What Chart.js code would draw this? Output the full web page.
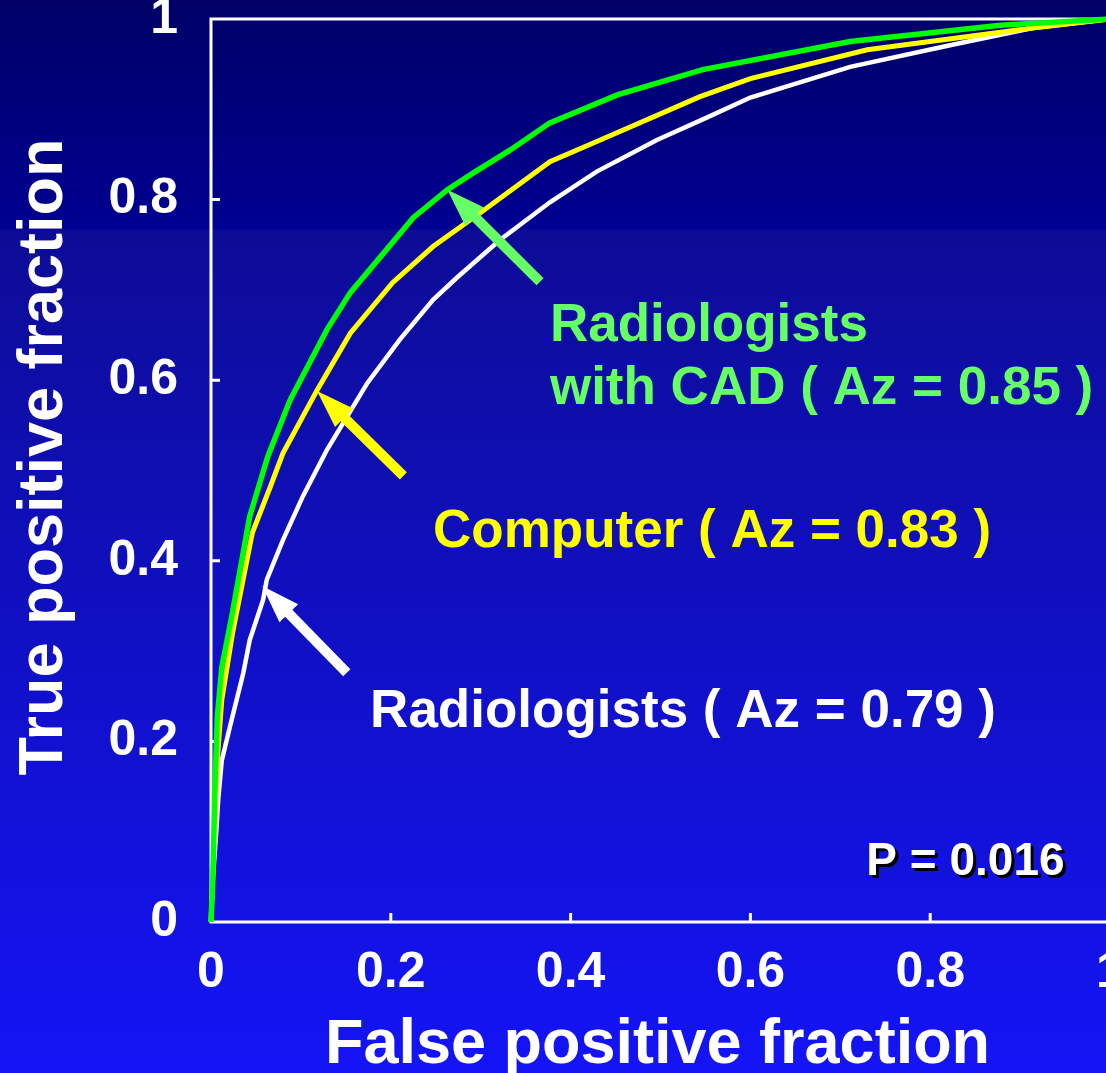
<!DOCTYPE html>
<html>
<head>
<meta charset="utf-8">
<title>ROC curves</title>
<script src="https://cdn.jsdelivr.net/npm/chart.js@4.4.1/dist/chart.umd.min.js"></script>
<style>
  html, body { margin: 0; padding: 0; overflow: hidden; background: #0d0c96; }
  #roc { display: block; }
</style>
</head>
<body>
<canvas id="roc" width="1130" height="1073"></canvas>
<script>
// ROC operating points: false positive fraction (x) and true positive fraction (y)
const fpfWithCAD = [0, 0.002, 0.004, 0.007, 0.012, 0.023, 0.043, 0.063, 0.088, 0.129, 0.155, 0.188, 0.225, 0.263, 0.291, 0.333, 0.377, 0.452, 0.547, 0.711, 0.878, 1];
const tpfWithCAD = [0, 0.047, 0.135, 0.227, 0.282, 0.338, 0.449, 0.515, 0.578, 0.656, 0.697, 0.736, 0.780, 0.811, 0.829, 0.855, 0.885, 0.916, 0.944, 0.975, 0.993, 1];

const fpfComputer = [0, 0.003, 0.007, 0.012, 0.024, 0.046, 0.066, 0.080, 0.118, 0.155, 0.202, 0.247, 0.303, 0.377, 0.433, 0.544, 0.600, 0.730, 0.914, 1];
const tpfComputer = [0, 0.080, 0.179, 0.246, 0.320, 0.431, 0.482, 0.519, 0.589, 0.652, 0.708, 0.748, 0.788, 0.842, 0.866, 0.914, 0.934, 0.966, 0.990, 1];

const fpfRadiologists = [0, 0.002, 0.006, 0.008, 0.012, 0.021, 0.036, 0.043, 0.058, 0.062, 0.080, 0.102, 0.129, 0.174, 0.210, 0.247, 0.274, 0.321, 0.377, 0.429, 0.496, 0.552, 0.600, 0.711, 0.822, 0.914, 1];
const tpfRadiologists = [0, 0.047, 0.102, 0.135, 0.179, 0.216, 0.276, 0.312, 0.357, 0.379, 0.423, 0.471, 0.523, 0.597, 0.645, 0.689, 0.714, 0.755, 0.797, 0.831, 0.866, 0.891, 0.913, 0.947, 0.971, 0.990, 1];

// Axis ticks
const tickValues = [0, 0.2, 0.4, 0.6, 0.8, 1];

// Areas under the curves and the significance level
const azWithCAD = '0.85';
const azComputer = '0.83';
const azRadiologists = '0.79';
const pValue = '0.016';

const FONT = "'Liberation Sans', Arial, Helvetica, sans-serif";

function pairs(xs, ys) {
  return xs.map((x, i) => ({ x: x, y: ys[i] }));
}

// Callout arrows (data coordinates of tip and tail)
const arrows = [
  { tip: [0.263, 0.811], tail: [0.366, 0.709], color: '#66ff66' },
  { tip: [0.118, 0.588], tail: [0.214, 0.494], color: '#ffff00' },
  { tip: [0.057, 0.372], tail: [0.151, 0.276], color: '#ffffff' }
];

// Callout texts (left edge / baseline in data coordinates)
const callouts = [
  { text: 'Radiologists', at: [0.377, 0.643], color: '#66ff66' },
  { text: 'with CAD ( Az = ' + azWithCAD + ' )', at: [0.377, 0.574], color: '#66ff66' },
  { text: 'Computer ( Az = ' + azComputer + ' )', at: [0.247, 0.415], color: '#ffff00' },
  { text: 'Radiologists ( Az = ' + azRadiologists + ' )', at: [0.177, 0.216], color: '#ffffff' }
];

const backgroundPlugin = {
  id: 'slideBackground',
  beforeDraw(chart) {
    const { ctx, width, height } = chart;
    const g = ctx.createLinearGradient(0, 0, 0, height);
    g.addColorStop(0, '#000066');
    g.addColorStop(0.2135, '#000092');
    g.addColorStop(0.2145, '#0d0c96');
    g.addColorStop(1, '#1414f6');
    ctx.save();
    ctx.fillStyle = g;
    ctx.fillRect(0, 0, width, height);
    ctx.restore();
  }
};

const framePlugin = {
  id: 'plotFrame',
  beforeDatasetsDraw(chart) {
    const { ctx, chartArea: a, scales } = chart;
    ctx.save();
    ctx.strokeStyle = '#ffffff';
    ctx.lineWidth = 3;
    ctx.strokeRect(a.left, a.top, a.right - a.left, a.bottom - a.top);
    ctx.beginPath();
    tickValues.slice(1, -1).forEach(v => {
      const y = scales.y.getPixelForValue(v);
      ctx.moveTo(a.left, y);
      ctx.lineTo(a.left + 9, y);
      const x = scales.x.getPixelForValue(v);
      ctx.moveTo(x, a.bottom);
      ctx.lineTo(x, a.bottom - 9);
    });
    ctx.stroke();
    ctx.restore();
  }
};

function drawArrow(ctx, x0, y0, x1, y1, color) {
  const dx = x1 - x0, dy = y1 - y0;
  const len = Math.hypot(dx, dy);
  const ux = dx / len, uy = dy / len;
  const headLen = 38, headHalf = 13, shaft = 10;
  const bx = x1 - ux * headLen, by = y1 - uy * headLen;
  ctx.save();
  ctx.strokeStyle = color;
  ctx.fillStyle = color;
  ctx.lineWidth = shaft;
  ctx.lineCap = 'butt';
  ctx.beginPath();
  ctx.moveTo(x0, y0);
  ctx.lineTo(bx + ux * 4, by + uy * 4);
  ctx.stroke();
  ctx.beginPath();
  ctx.moveTo(x1, y1);
  ctx.lineTo(bx - uy * headHalf, by + ux * headHalf);
  ctx.lineTo(bx + uy * headHalf, by - ux * headHalf);
  ctx.closePath();
  ctx.fill();
  ctx.restore();
}

const annotationPlugin = {
  id: 'rocAnnotations',
  afterDatasetsDraw(chart) {
    const { ctx, chartArea: a, scales } = chart;
    const px = v => scales.x.getPixelForValue(v);
    const py = v => scales.y.getPixelForValue(v);

    arrows.forEach(ar => drawArrow(ctx, px(ar.tail[0]), py(ar.tail[1]), px(ar.tip[0]), py(ar.tip[1]), ar.color));

    ctx.save();
    ctx.font = 'bold 53px ' + FONT;
    ctx.textAlign = 'left';
    ctx.textBaseline = 'alphabetic';
    callouts.forEach(c => {
      ctx.fillStyle = c.color;
      ctx.fillText(c.text, px(c.at[0]), py(c.at[1]));
    });

    // significance note with drop shadow
    ctx.font = 'bold 46px ' + FONT;
    const pText = 'P = ' + pValue;
    const pX = px(0.729), pY = py(0.052);
    ctx.fillStyle = '#000000';
    ctx.fillText(pText, pX + 3, pY + 3);
    ctx.fillStyle = '#ffffff';
    ctx.fillText(pText, pX, pY);

    // axis titles
    ctx.font = 'bold 63px ' + FONT;
    ctx.fillStyle = '#ffffff';
    ctx.textAlign = 'center';
    ctx.fillText('False positive fraction', (a.left + a.right) / 2 - 3, 1063);
    ctx.translate(62, 457);
    ctx.rotate(-Math.PI / 2);
    ctx.fillText('True positive fraction', 0, 0);
    ctx.restore();
  }
};

// keep the plot frame where the layout puts it, without label overhang padding
function fixScaleSize(prop, size) {
  return function (s) {
    s[prop] = size;
    s.paddingTop = 0; s.paddingBottom = 0; s.paddingLeft = 0; s.paddingRight = 0;
  };
}

const lineStyle = { showLine: true, pointRadius: 0, pointHoverRadius: 0, tension: 0, fill: false };

new Chart(document.getElementById('roc'), {
  type: 'scatter',
  data: {
    datasets: [
      Object.assign({ label: 'Radiologists with CAD', data: pairs(fpfWithCAD, tpfWithCAD), borderColor: '#00ff00', borderWidth: 5.5 }, lineStyle),
      Object.assign({ label: 'Computer', data: pairs(fpfComputer, tpfComputer), borderColor: '#ffff00', borderWidth: 5 }, lineStyle),
      Object.assign({ label: 'Radiologists', data: pairs(fpfRadiologists, tpfRadiologists), borderColor: '#ffffff', borderWidth: 4.5 }, lineStyle)
    ]
  },
  options: {
    responsive: false,
    animation: false,
    events: [],
    clip: false,
    layout: { autoPadding: false, padding: { left: 0, top: 19, right: 20, bottom: 0 } },
    plugins: { legend: { display: false }, tooltip: { enabled: false } },
    scales: {
      x: {
        type: 'linear', min: 0, max: 1,
        afterFit: fixScaleSize('height', 151),
        afterBuildTicks(s) { s.ticks = tickValues.map(v => ({ value: v })); },
        grid: { display: false, drawTicks: false },
        border: { display: false },
        ticks: {
          color: '#ffffff', padding: 21,
          font: { family: FONT, size: 50, weight: 'bold' },
          maxRotation: 0, autoSkip: false,
          callback: v => String(v)
        }
      },
      y: {
        type: 'linear', min: 0, max: 1,
        afterFit: fixScaleSize('width', 211),
        afterBuildTicks(s) { s.ticks = tickValues.map(v => ({ value: v })); },
        grid: { display: false, drawTicks: false },
        border: { display: false },
        ticks: {
          color: '#ffffff', padding: 33,
          font: { family: FONT, size: 50, weight: 'bold' },
          autoSkip: false,
          callback: v => String(v)
        }
      }
    }
  },
  plugins: [backgroundPlugin, framePlugin, annotationPlugin]
});
</script>
</body>
</html>
